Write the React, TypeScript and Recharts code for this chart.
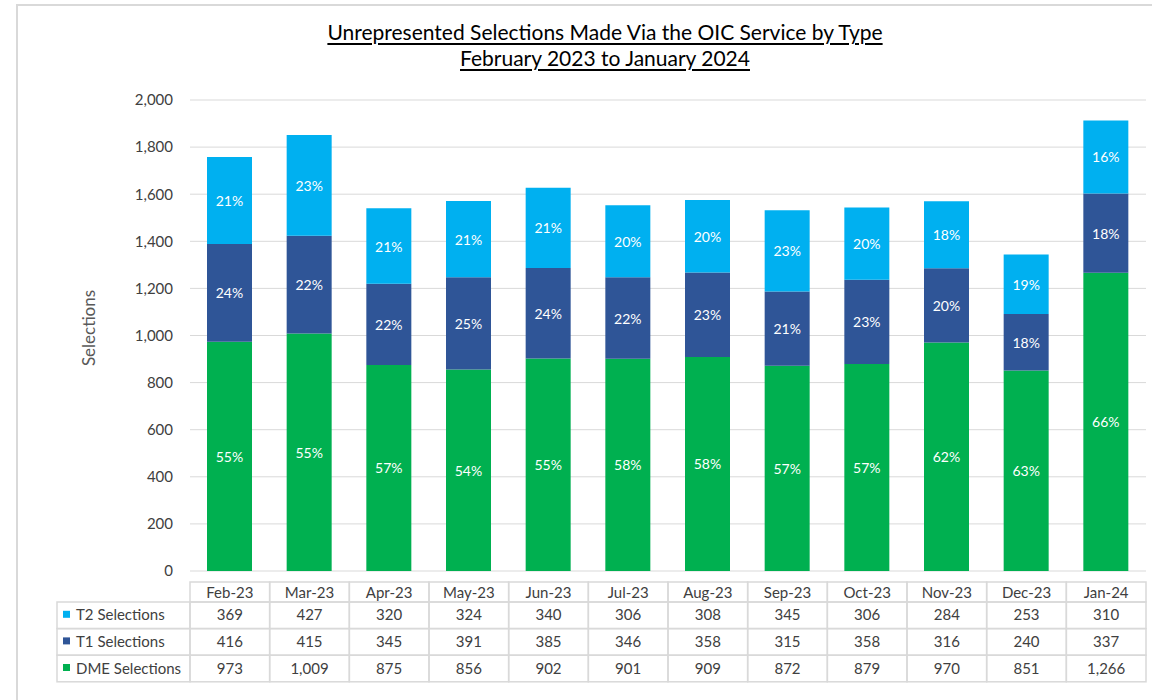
import { BarChart, Bar, XAxis, YAxis, CartesianGrid, LabelList } from 'recharts';

const months = ['Feb-23', 'Mar-23', 'Apr-23', 'May-23', 'Jun-23', 'Jul-23', 'Aug-23', 'Sep-23', 'Oct-23', 'Nov-23', 'Dec-23', 'Jan-24'];
const t2Selections = [369, 427, 320, 324, 340, 306, 308, 345, 306, 284, 253, 310];
const t1Selections = [416, 415, 345, 391, 385, 346, 358, 315, 358, 316, 240, 337];
const dmeSelections = [973, 1009, 875, 856, 902, 901, 909, 872, 879, 970, 851, 1266];
const yTicks = [0, 200, 400, 600, 800, 1000, 1200, 1400, 1600, 1800, 2000];

const COLORS = { t2: '#00b0f0', t1: '#2f5597', dme: '#00b050' };
const FONT = 'Lato, "Noto Sans", sans-serif';
const GRID = '#d9d9d9';
const TEXT = '#404040';

const seriesRows = [
  { key: 't2', name: 'T2 Selections', values: t2Selections, color: COLORS.t2 },
  { key: 't1', name: 'T1 Selections', values: t1Selections, color: COLORS.t1 },
  { key: 'dme', name: 'DME Selections', values: dmeSelections, color: COLORS.dme },
];

const data = months.map((m, i) => ({
  month: m,
  dme: dmeSelections[i],
  t1: t1Selections[i],
  t2: t2Selections[i],
}));

const total = (i: number) => dmeSelections[i] + t1Selections[i] + t2Selections[i];
const fmt = (v: number) => v.toLocaleString('en-US');

const PLOT_LEFT = 190;
const PLOT_RIGHT = 1146;
const CELL_W = (PLOT_RIGHT - PLOT_LEFT) / months.length;
const HEADER_H = 20;
const ROW_H = 26.6;
const TABLE_TOP = 11;
const LEFT_COL = 57;

// percentage label centred inside each stacked segment
function pctLabel(values: number[]) {
  return (p: any) => {
    const { x, y, width, height, index } = p;
    const pct = Math.round((values[index] / total(index)) * 100);
    return (
      <text
        x={x + width / 2}
        y={y + height / 2}
        textAnchor="middle"
        dominantBaseline="central"
        fill="#ffffff"
        fontSize={14}
        fontFamily={FONT}
      >
        {pct}%
      </text>
    );
  };
}

// x axis tick drawn as a column of the data table
function TableTick(props: any) {
  const { x, y, payload } = props;
  const i = months.indexOf(payload.value);
  const left = x - CELL_W / 2;
  const top = y + TABLE_TOP;
  return (
    <g fontFamily={FONT} fontSize={15} fill={TEXT}>
      <rect x={left} y={top} width={CELL_W} height={HEADER_H} fill="none" stroke={GRID} strokeWidth={1.5} />
      <text x={x} y={top + HEADER_H / 2} textAnchor="middle" dominantBaseline="central" fill={TEXT}>
        {payload.value}
      </text>
      {seriesRows.map((s, r) => {
        const ry = top + HEADER_H + r * ROW_H;
        return (
          <g key={s.key}>
            <rect x={left} y={ry} width={CELL_W} height={ROW_H} fill="none" stroke={GRID} strokeWidth={1.5} />
            <text x={x} y={ry + ROW_H / 2 - 1} textAnchor="middle" dominantBaseline="central" fill={TEXT}>
              {fmt(s.values[i])}
            </text>
          </g>
        );
      })}
      {i === 0 &&
        seriesRows.map((s, r) => {
          const ry = top + HEADER_H + r * ROW_H;
          return (
            <g key={'leg' + s.key}>
              <rect x={LEFT_COL} y={ry} width={left - LEFT_COL} height={ROW_H} fill="none" stroke={GRID} strokeWidth={1.5} />
              <rect x={63} y={ry + ROW_H / 2 - 4.5} width={7} height={7} fill={s.color} />
              <text x={76} y={ry + ROW_H / 2 - 1} dominantBaseline="central" fill={TEXT}>
                {s.name}
              </text>
            </g>
          );
        })}
    </g>
  );
}

export default function App() {
  return (
    <div
      style={{
        position: 'absolute',
        left: 0,
        top: 0,
        width: 1152,
        height: 700,
        overflow: 'hidden',
        background: '#ffffff',
        fontFamily: FONT,
      }}
    >
      <div
        style={{
          position: 'absolute',
          left: 16,
          top: 4,
          width: 1200,
          height: 800,
          borderTop: `2px solid ${GRID}`,
          borderLeft: `2px solid ${GRID}`,
        }}
      />
      <div
        style={{
          position: 'absolute',
          left: 0,
          width: 1210,
          top: 19,
          textAlign: 'center',
          fontSize: 21,
          lineHeight: '26px',
          color: '#000',
          textDecoration: 'underline',
          textUnderlineOffset: 3,
        }}
      >
        Unrepresented Selections Made Via the OIC Service by Type
        <br />
        February 2023 to January 2024
      </div>
      <div
        style={{
          position: 'absolute',
          left: 88,
          top: 328,
          transform: 'translate(-50%, -50%) rotate(-90deg)',
          fontSize: 17,
          color: '#595959',
          whiteSpace: 'nowrap',
        }}
      >
        Selections
      </div>
      <div style={{ position: 'absolute', left: 0, top: 0 }}>
        <BarChart
          width={1152}
          height={700}
          data={data}
          margin={{ top: 100, right: 1152 - PLOT_RIGHT, bottom: 0, left: 0 }}
          barSize={45}
          style={{ fontFamily: FONT }}
        >
          <CartesianGrid vertical={false} stroke={GRID} />
          <XAxis
            dataKey="month"
            height={129}
            axisLine={false}
            tickLine={false}
            tickSize={0}
            tickMargin={0}
            interval={0}
            tick={<TableTick />}
          />
          <YAxis
            width={PLOT_LEFT}
            domain={[0, 2000]}
            ticks={yTicks}
            axisLine={false}
            tickLine={false}
            tickSize={0}
            tickMargin={17}
            tickFormatter={fmt}
            tick={{ fill: TEXT, fontSize: 15 }}
          />
          <Bar dataKey="dme" stackId="a" fill={COLORS.dme} isAnimationActive={false}>
            <LabelList content={pctLabel(dmeSelections)} />
          </Bar>
          <Bar dataKey="t1" stackId="a" fill={COLORS.t1} isAnimationActive={false}>
            <LabelList content={pctLabel(t1Selections)} />
          </Bar>
          <Bar dataKey="t2" stackId="a" fill={COLORS.t2} isAnimationActive={false}>
            <LabelList content={pctLabel(t2Selections)} />
          </Bar>
        </BarChart>
      </div>
    </div>
  );
}
